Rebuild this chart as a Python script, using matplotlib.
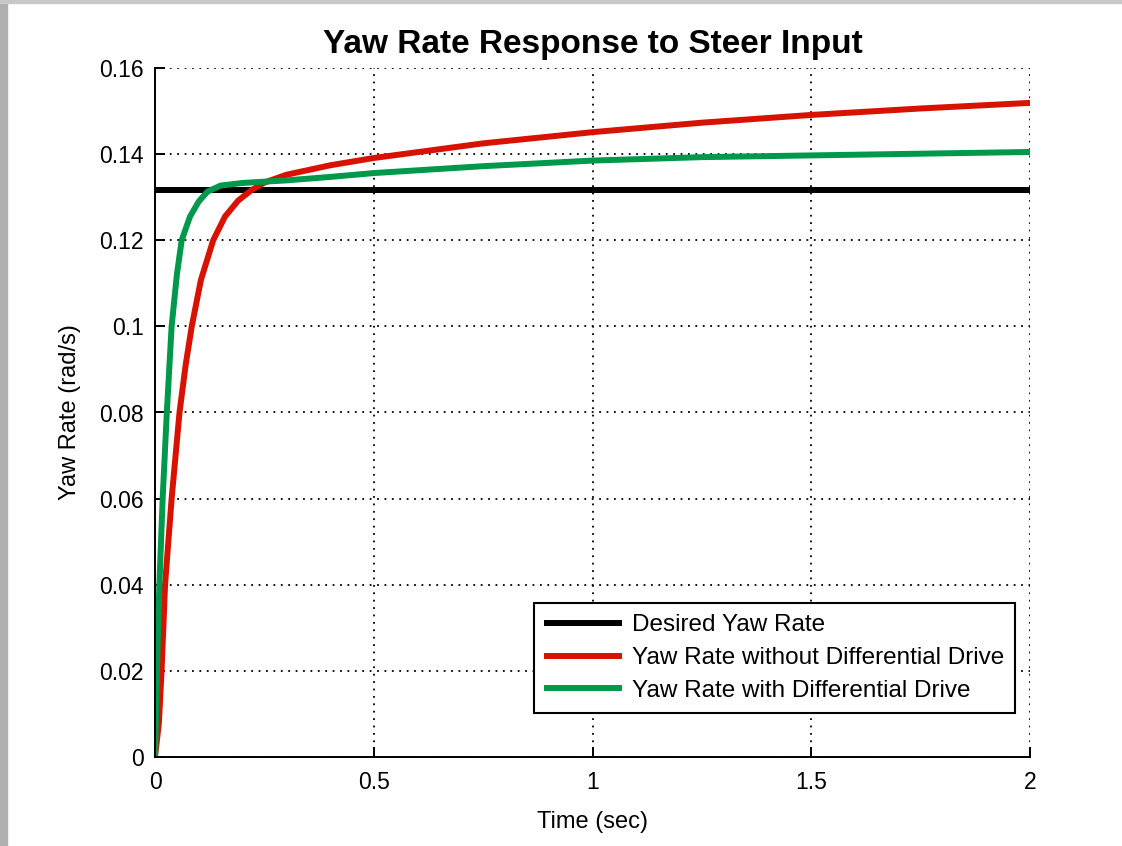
import matplotlib.pyplot as plt
import matplotlib.patches as mpatches

# Data
desired_t = [0, 2.0]
desired = [0.1316, 0.1316]

red_t = [0, 0.009, 0.015, 0.023, 0.038, 0.056, 0.07, 0.084, 0.105, 0.133, 0.16, 0.19,
         0.22, 0.25, 0.3, 0.4, 0.5, 0.75, 1.0, 1.25, 1.5, 1.75, 2.0]
red = [0, 0.008, 0.02, 0.04, 0.06, 0.08, 0.091, 0.10, 0.1108, 0.12, 0.1255, 0.1292,
       0.1316, 0.1334, 0.1352, 0.1374, 0.1391, 0.1425, 0.1451, 0.1473, 0.1491, 0.1506, 0.1519]

green_t = [0, 0.005, 0.01, 0.0175, 0.027, 0.038, 0.05, 0.061, 0.08, 0.1, 0.12, 0.15,
           0.2, 0.25, 0.3, 0.4, 0.5, 0.75, 1.0, 1.25, 1.5, 1.75, 2.0]
green = [0, 0.022, 0.04, 0.06, 0.08, 0.10, 0.112, 0.12, 0.1255, 0.129, 0.1313, 0.1327,
         0.1333, 0.1336, 0.1339, 0.1347, 0.1356, 0.1372, 0.1385, 0.1393, 0.1397, 0.1401, 0.1405]

labels = ['Desired Yaw Rate', 'Yaw Rate without Differential Drive',
          'Yaw Rate with Differential Drive']
x_ticks = [0, 0.5, 1, 1.5, 2]
x_ticklabels = ['0', '0.5', '1', '1.5', '2']
y_ticks = [0, 0.02, 0.04, 0.06, 0.08, 0.1, 0.12, 0.14, 0.16]
y_ticklabels = ['0', '0.02', '0.04', '0.06', '0.08', '0.1', '0.12', '0.14', '0.16']

plt.rcParams['font.family'] = ['Liberation Sans', 'DejaVu Sans']

fig = plt.figure(figsize=(11.22, 8.46), dpi=100)
ax = fig.add_axes([155 / 1122, 1 - 757 / 846, 875 / 1122, 689 / 846])

# gray screenshot border
fig.patches.append(mpatches.Rectangle((0, 0), 7 / 1122, 1, transform=fig.transFigure,
                                      color='#b0b0b0', zorder=0))
fig.patches.append(mpatches.Rectangle((0, 1 - 3 / 846), 1, 3 / 846, transform=fig.transFigure,
                                      color='#c8c8c8', zorder=0))

lw = 4.3
ax.plot(desired_t, desired, color='black', lw=lw, label=labels[0], solid_capstyle='butt')
ax.plot(red_t, red, color='#d81200', lw=lw, label=labels[1], solid_capstyle='butt')
ax.plot(green_t, green, color='#00994c', lw=lw, label=labels[2], solid_capstyle='butt')

ax.set_xlim(0, 2)
ax.set_ylim(0, 0.16)
ax.set_xticks(x_ticks)
ax.set_xticklabels(x_ticklabels)
ax.set_yticks(y_ticks)
ax.set_yticklabels(y_ticklabels)

ax.grid(True, color='black', linestyle=(0, (1, 3.1)), linewidth=1.3)
ax.spines['top'].set_visible(False)
ax.spines['right'].set_visible(False)
ax.spines['left'].set_linewidth(1.4)
ax.spines['bottom'].set_linewidth(1.4)
ax.tick_params(direction='in', length=7, width=1.4, labelsize=16.5, colors='black')
ax.tick_params(axis='x', pad=10)
ax.tick_params(axis='y', pad=8)

ax.set_title('Yaw Rate Response to Steer Input', fontsize=24, fontweight='bold', pad=11)
ax.set_xlabel('Time (sec)', fontsize=17, labelpad=12)
ax.set_ylabel('Yaw Rate (rad/s)', fontsize=17, labelpad=13)

leg = ax.legend(loc='lower right', bbox_to_anchor=(0.983, 0.064), borderaxespad=0,
                fontsize=17.5, fancybox=False, framealpha=1, edgecolor='black',
                handlelength=3.2, handletextpad=0.4, labelspacing=0.45,
                borderpad=0.45)
leg.get_frame().set_linewidth(1.5)

plt.savefig('out.png', dpi=100)
